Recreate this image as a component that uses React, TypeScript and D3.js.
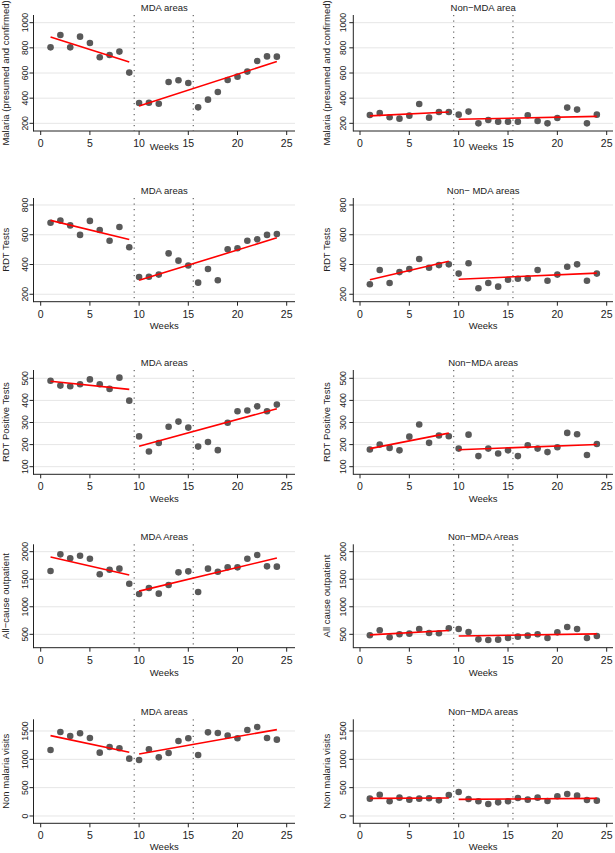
import { useEffect, useRef } from 'react';
import * as d3 from 'd3';

// ─── Data ────────────────────────────────────────────────────
const weeks = [1, 2, 3, 4, 5, 6, 7, 8, 9, 10, 11, 12, 13, 14, 15, 16, 17, 18, 19, 20, 21, 22, 23, 24];
const breakWeeks = [9.5, 15.5];
const preEndWeek = 9;

const mdaMalaria = [804, 902, 804, 889, 838, 725, 743, 770, 603, 362, 364, 356, 528, 542, 521, 327, 388, 449, 544, 571, 611, 695, 732, 730];
const nonMdaMalaria = [266, 282, 248, 237, 261, 354, 245, 290, 290, 269, 293, 200, 226, 213, 213, 213, 264, 219, 200, 242, 325, 309, 200, 269];

const mdaRdt = [681, 695, 663, 599, 693, 632, 560, 652, 516, 316, 318, 332, 475, 426, 393, 278, 370, 294, 502, 509, 560, 569, 599, 605];
const nonMdaRdt = [267, 363, 276, 349, 369, 437, 378, 396, 401, 339, 408, 240, 276, 251, 298, 304, 307, 363, 291, 332, 385, 401, 291, 339];

const mdaRdtPos = [489, 467, 464, 473, 495, 473, 452, 503, 399, 237, 169, 207, 281, 304, 277, 191, 212, 175, 299, 351, 354, 373, 351, 381];
const nonMdaRdtPos = [178, 200, 185, 174, 236, 291, 208, 241, 238, 182, 245, 148, 182, 160, 174, 148, 197, 182, 166, 188, 253, 247, 153, 203];

const mdaOpd = [1649, 1952, 1879, 1927, 1873, 1589, 1673, 1692, 1419, 1232, 1341, 1238, 1395, 1625, 1643, 1268, 1692, 1637, 1716, 1716, 1873, 1940, 1734, 1728];
const nonMdaOpd = [482, 573, 446, 500, 512, 597, 524, 518, 609, 597, 542, 409, 397, 403, 433, 458, 476, 500, 433, 536, 633, 597, 433, 470];

const mdaNonMalaria = [1165, 1482, 1412, 1459, 1376, 1118, 1218, 1194, 1012, 988, 1176, 1035, 1112, 1324, 1371, 1076, 1476, 1465, 1418, 1371, 1518, 1571, 1376, 1347];
const nonMdaNonMalaria = [306, 376, 259, 324, 288, 306, 312, 276, 371, 424, 300, 259, 212, 241, 259, 318, 288, 324, 265, 347, 388, 359, 282, 271];

const xTicks = [0, 5, 10, 15, 20, 25];

// ─── Layout ──────────────────────────────────────────────────
const W = 615;
const H = 853;
const FONT = '"Liberation Sans", Arial, Helvetica, sans-serif';

const cols = [
  { axisX: 33.5, x0: 40.7, x25: 286.7, right: 295, labelX: 6, tickX: 25 },
  { axisX: 353.3, x0: 360, x25: 606.7, right: 613, labelX: 326.7, tickX: 343 },
];

const rows = [
  { top: 15, bottom: 131, domain: [139, 1061], ticks: [200, 400, 600, 800, 1000], weeksDy: 19 },
  { top: 198, bottom: 301.7, domain: [150, 847], ticks: [200, 400, 600, 800], weeksDy: 27 },
  { top: 370, bottom: 474.3, domain: [65.6, 537.6], ticks: [100, 200, 300, 400, 500], weeksDy: 27.5 },
  { top: 544.3, bottom: 647.7, domain: [257, 2134], ticks: [500, 1000, 1500, 2000], weeksDy: 28 },
  { top: 719.3, bottom: 823.3, domain: [-129, 1706], ticks: [0, 500, 1000, 1500], weeksDy: 26.7 },
];

const panels = [
  { row: 0, col: 0, title: 'MDA areas', ylab: 'Malaria (presumed and confirmed)', values: mdaMalaria },
  { row: 0, col: 1, title: 'Non\u2212MDA area', ylab: 'Malaria (presumed and confirmed)', values: nonMdaMalaria },
  { row: 1, col: 0, title: 'MDA areas', ylab: 'RDT Tests', values: mdaRdt },
  { row: 1, col: 1, title: 'Non\u2212 MDA areas', ylab: 'RDT Tests', values: nonMdaRdt },
  { row: 2, col: 0, title: 'MDA areas', ylab: 'RDT Positive Tests', values: mdaRdtPos },
  { row: 2, col: 1, title: 'Non\u2212MDA areas', ylab: 'RDT Positive Tests', values: nonMdaRdtPos },
  { row: 3, col: 0, title: 'MDA Areas', ylab: 'All\u2212cause outpatient', values: mdaOpd },
  { row: 3, col: 1, title: 'Non\u2212MDA Areas', ylab: 'All cause outpatient', values: nonMdaOpd },
  { row: 4, col: 0, title: 'MDA areas', ylab: 'Non malaria visits', values: mdaNonMalaria },
  { row: 4, col: 1, title: 'Non\u2212MDA areas', ylab: 'Non malaria visits', values: nonMdaNonMalaria },
];

// simple least squares fit
function fitLine(xs: number[], ys: number[]) {
  const mx = d3.mean(xs) as number;
  const my = d3.mean(ys) as number;
  let sxy = 0;
  let sxx = 0;
  xs.forEach((x, i) => {
    sxy += (x - mx) * (ys[i] - my);
    sxx += (x - mx) * (x - mx);
  });
  const slope = sxy / sxx;
  return (x: number) => my + slope * (x - mx);
}

export default function App() {
  const svgRef = useRef<SVGSVGElement>(null);

  useEffect(() => {
    if (!svgRef.current) return;
    const svg = d3.select(svgRef.current);
    svg.selectAll('*').remove();

    svg.append('rect').attr('width', W).attr('height', H).attr('fill', '#ffffff');

    panels.forEach((p) => {
      const c = cols[p.col];
      const r = rows[p.row];
      const g = svg.append('g');

      const x = d3.scaleLinear().domain([0, 25]).range([c.x0, c.x25]);
      const y = d3.scaleLinear().domain(r.domain).range([r.bottom, r.top]);

      // grid
      g.selectAll('.grid')
        .data(r.ticks)
        .join('line')
        .attr('x1', c.axisX)
        .attr('x2', c.right)
        .attr('y1', (d) => y(d))
        .attr('y2', (d) => y(d))
        .attr('stroke', '#e6e6e6')
        .attr('stroke-width', 1);

      // break lines
      g.selectAll('.brk')
        .data(breakWeeks)
        .join('line')
        .attr('x1', (d) => x(d))
        .attr('x2', (d) => x(d))
        .attr('y1', r.top)
        .attr('y2', r.bottom)
        .attr('stroke', '#444')
        .attr('stroke-width', 1)
        .attr('stroke-dasharray', '1.2,4.3');

      // axes lines
      g.append('line')
        .attr('x1', c.axisX).attr('x2', c.axisX)
        .attr('y1', r.top).attr('y2', r.bottom + 0.5)
        .attr('stroke', '#222').attr('stroke-width', 1);
      g.append('line')
        .attr('x1', c.axisX).attr('x2', c.right)
        .attr('y1', r.bottom).attr('y2', r.bottom)
        .attr('stroke', '#222').attr('stroke-width', 1);

      // y ticks + labels
      g.selectAll('.ytick')
        .data(r.ticks)
        .join('line')
        .attr('x1', c.axisX - 4)
        .attr('x2', c.axisX)
        .attr('y1', (d) => y(d))
        .attr('y2', (d) => y(d))
        .attr('stroke', '#222');
      g.selectAll('.ylab')
        .data(r.ticks)
        .join('text')
        .attr('transform', (d) => `translate(${c.tickX},${y(d)}) rotate(-90)`)
        .attr('dy', '0.36em')
        .attr('text-anchor', 'middle')
        .attr('font-family', FONT)
        .attr('font-size', 8.7)
        .attr('fill', '#222')
        .text((d) => String(d));

      // x ticks + labels
      g.selectAll('.xtick')
        .data(xTicks)
        .join('line')
        .attr('x1', (d) => x(d))
        .attr('x2', (d) => x(d))
        .attr('y1', r.bottom)
        .attr('y2', r.bottom + 4)
        .attr('stroke', '#222');
      g.selectAll('.xlab')
        .data(xTicks)
        .join('text')
        .attr('x', (d) => x(d))
        .attr('y', r.bottom + 15.8)
        .attr('text-anchor', 'middle')
        .attr('font-family', FONT)
        .attr('font-size', 10.5)
        .attr('fill', '#222')
        .text((d) => String(d));

      // axis titles
      const midX = (c.axisX + c.right) / 2;
      g.append('text')
        .attr('x', midX)
        .attr('y', r.bottom + r.weeksDy)
        .attr('text-anchor', 'middle')
        .attr('font-family', FONT)
        .attr('font-size', 9.5)
        .attr('fill', '#222')
        .text('Weeks');
      g.append('text')
        .attr('transform', `translate(${c.labelX},${(r.top + r.bottom) / 2}) rotate(-90)`)
        .attr('dy', '0.36em')
        .attr('text-anchor', 'middle')
        .attr('font-family', FONT)
        .attr('font-size', 9.5)
        .attr('fill', '#222')
        .text(p.ylab);
      g.append('text')
        .attr('x', midX)
        .attr('y', r.top - 4.5)
        .attr('text-anchor', 'middle')
        .attr('font-family', FONT)
        .attr('font-size', 9.5)
        .attr('fill', '#222')
        .text(p.title);

      // points
      g.selectAll('.pt')
        .data(weeks)
        .join('circle')
        .attr('cx', (d) => x(d))
        .attr('cy', (d, i) => y(p.values[i]))
        .attr('r', 3.3)
        .attr('fill', '#595959');

      // fitted lines, pre and post
      const segments = [
        weeks.filter((w) => w <= preEndWeek),
        weeks.filter((w) => w > preEndWeek),
      ];
      segments.forEach((seg) => {
        const ys = seg.map((w) => p.values[weeks.indexOf(w)]);
        const f = fitLine(seg, ys);
        const x1 = seg[0];
        const x2 = seg[seg.length - 1];
        g.append('line')
          .attr('x1', x(x1)).attr('y1', y(f(x1)))
          .attr('x2', x(x2)).attr('y2', y(f(x2)))
          .attr('stroke', '#ff0000')
          .attr('stroke-width', 1.6);
      });
    });
  }, []);

  return (
    <div style={{ position: 'absolute', left: 0, top: 0, width: W, height: H, background: '#fff' }}>
      <svg ref={svgRef} width={W} height={H} style={{ display: 'block' }} />
    </div>
  );
}
